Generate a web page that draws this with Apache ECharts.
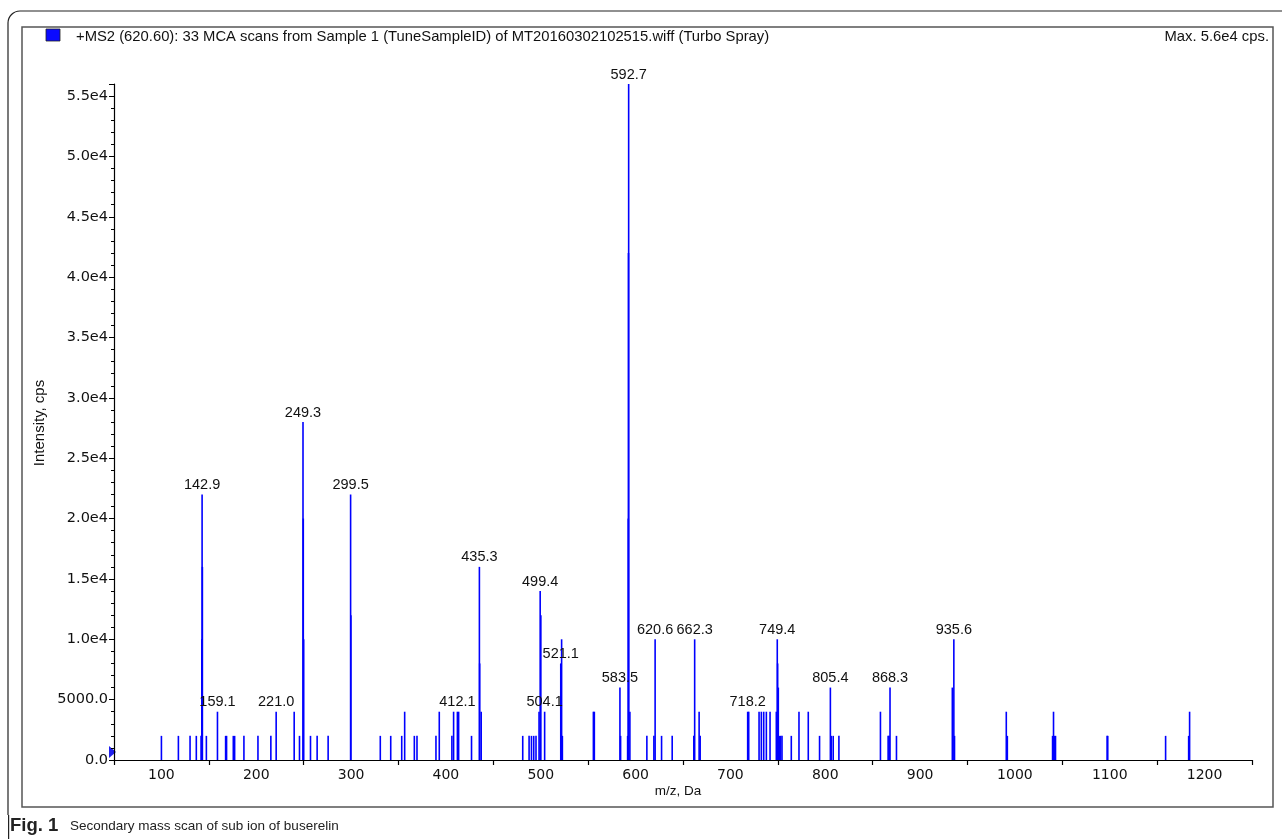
<!DOCTYPE html>
<html>
<head>
<meta charset="utf-8">
<script src="https://cdn.jsdelivr.net/npm/echarts@6/dist/echarts.min.js"></script>
<style>
html,body{margin:0;padding:0;background:#fff;}
#chart{width:1282px;height:839px;}
</style>
</head>
<body>
<div id="chart"></div>
<script>
// m/z positions of peaks (Da)
const peakMz = [
  100.0, 117.9, 130.2, 136.8, 141.8, 142.6, 142.9, 143.2, 147.4, 159.1,
  167.7, 168.7, 175.8, 177.2, 187.0, 201.8, 215.4, 221.0, 240.0, 245.6,
  249.3, 249.6, 250.0, 257.2, 264.2, 275.8, 299.5, 299.8, 330.8, 341.8,
  353.4, 356.5, 366.7, 369.5, 389.5, 393.0, 406.3, 408.1, 412.1, 413.4,
  427.0, 435.3, 435.6, 437.2, 481.0, 487.7, 490.2, 492.6, 495.0, 498.2,
  499.4, 500.1, 504.1, 521.1, 522.0, 522.8, 555.5, 556.5, 583.5, 584.2,
  591.6, 592.3, 592.5, 592.7, 594.0, 611.9, 619.3, 620.6, 627.4, 638.6,
  661.4, 662.3, 667.0, 668.1, 718.2, 719.3, 730.2, 732.6, 735.1, 737.9,
  741.8, 748.4, 749.4, 749.8, 750.5, 752.0, 752.9, 754.4, 764.2, 772.3,
  782.1, 794.0, 805.4, 806.3, 808.4, 814.4, 858.2, 866.3, 867.4, 868.3,
  875.1, 934.0, 935.6, 936.3, 990.9, 992.0, 1039.7, 1040.7, 1041.8, 1042.8,
  1097.2, 1097.9, 1158.9, 1183.2, 1184.2
];
// intensities (cps)
const peakIntensity = [
  2000, 2000, 2000, 2000, 2000, 10000, 22000, 16000, 2000, 4000,
  2000, 2000, 2000, 2000, 2000, 2000, 2000, 4000, 4000, 2000,
  28000, 20000, 10000, 2000, 2000, 2000, 22000, 12000, 2000, 2000,
  2000, 4000, 2000, 2000, 2000, 4000, 2000, 4000, 4000, 4000,
  2000, 16000, 8000, 4000, 2000, 2000, 2000, 2000, 2000, 4000,
  14000, 12000, 4000, 8000, 10000, 2000, 4000, 4000, 6000, 2000,
  2000, 20000, 42000, 56000, 4000, 2000, 2000, 10000, 2000, 2000,
  2000, 10000, 4000, 2000, 4000, 4000, 4000, 4000, 4000, 4000,
  4000, 4000, 10000, 8000, 6000, 2000, 2000, 2000, 2000, 4000,
  4000, 2000, 6000, 2000, 2000, 2000, 4000, 2000, 2000, 6000,
  2000, 6000, 10000, 2000, 4000, 2000, 2000, 4000, 2000, 2000,
  2000, 2000, 2000, 2000, 4000
];
// annotated peaks
const labeledMz = [142.9, 159.1, 221.0, 249.3, 299.5, 412.1, 435.3, 499.4, 504.1, 521.1,
  583.5, 592.7, 620.6, 662.3, 718.2, 749.4, 805.4, 868.3, 935.6];

const xTickLabels = [100, 200, 300, 400, 500, 600, 700, 800, 900, 1000, 1100, 1200];
const yTickLabels = {0: '0.0', 5000: '5000.0', 10000: '1.0e4', 15000: '1.5e4', 20000: '2.0e4',
  25000: '2.5e4', 30000: '3.0e4', 35000: '3.5e4', 40000: '4.0e4', 45000: '4.5e4',
  50000: '5.0e4', 55000: '5.5e4'};

const headerText = '+MS2 (620.60): 33 MCA scans from Sample 1 (TuneSampleID) of MT20160302102515.wiff (Turbo Spray)';
const maxText = 'Max. 5.6e4 cps.';
const yName = 'Intensity, cps';
const xName = 'm/z, Da';
const captionBold = 'Fig. 1';
const captionText = 'Secondary mass scan of sub ion of buserelin';

const BLUE = '#0000ff';
const FONT = 'Liberation Sans, Arial, sans-serif';
const AXFONT = 'DejaVu Sans, sans-serif';

const data = peakMz.map((mz, i) => {
  const item = { value: [mz, peakIntensity[i]] };
  if (labeledMz.indexOf(mz) >= 0) {
    item.label = { show: true, formatter: mz.toFixed(1) };
  }
  return item;
});

const chart = echarts.init(document.getElementById('chart'), null, { renderer: 'canvas' });
chart.setOption({
  animation: false,
  backgroundColor: '#fff',
  grid: { left: 114, right: 30, top: 84, bottom: 79, containLabel: false },
  xAxis: [{
    type: 'value', min: 50, max: 1250, interval: 50,
    axisLine: { show: true, lineStyle: { color: '#000', width: 1.2 } },
    axisTick: { show: false },
    splitLine: { show: false },
    axisLabel: {
      color: '#111', fontSize: 14, fontFamily: AXFONT, margin: 8,
      formatter: v => (xTickLabels.indexOf(v) >= 0 ? String(v) : '')
    }
  }, {
    type: 'value', min: 50, max: 1250, interval: 100, position: 'bottom',
    axisLine: { show: false },
    axisTick: { show: true, length: 5, lineStyle: { color: '#000', width: 1.2 } },
    axisLabel: { show: false },
    splitLine: { show: false }
  }],
  yAxis: {
    type: 'value', min: 0, max: 56000, interval: 5000,
    axisLine: { show: true, lineStyle: { color: '#000', width: 1.2 } },
    axisTick: { show: true, length: 5, lineStyle: { color: '#000' } },
    minorTick: { show: true, splitNumber: 5, length: 3, lineStyle: { color: '#000' } },
    splitLine: { show: false },
    axisLabel: {
      color: '#111', fontSize: 14.5, fontFamily: AXFONT, margin: 6,
      showMaxLabel: false,
      formatter: v => (yTickLabels[v] !== undefined ? yTickLabels[v] : '')
    }
  },
  series: [{
    type: 'bar',
    xAxisIndex: 0,
    barWidth: 1.6,
    itemStyle: { color: BLUE },
    label: {
      show: false, position: 'top', distance: 2,
      color: '#111', fontSize: 14.5, fontFamily: FONT
    },
    labelLayout: { hideOverlap: false },
    data: data
  }],
  graphic: [
    { type: 'rect', silent: true, shape: { x: 8, y: 11, width: 1320, height: 900, r: 12 },
      style: { fill: 'none', stroke: '#222', lineWidth: 1.2 } },
    { type: 'rect', silent: true, shape: { x: 22, y: 27, width: 1251, height: 780 },
      style: { fill: 'none', stroke: '#555', lineWidth: 1.5 } },
    { type: 'rect', silent: true, shape: { x: 46, y: 29, width: 14, height: 12 },
      style: { fill: '#0a0aff', stroke: '#222', lineWidth: 0.8 } },
    { type: 'text', silent: true, x: 76, y: 37,
      style: { text: headerText, fill: '#111', fontSize: 14.8, fontFamily: FONT,
        textAlign: 'left', textVerticalAlign: 'middle' } },
    { type: 'text', silent: true, x: 1269, y: 37,
      style: { text: maxText, fill: '#111', fontSize: 14.8, fontFamily: FONT,
        textAlign: 'right', textVerticalAlign: 'middle' } },
    { type: 'text', silent: true, x: 40, y: 423, rotation: Math.PI / 2,
      style: { text: yName, fill: '#111', fontSize: 15, fontFamily: FONT,
        textAlign: 'center', textVerticalAlign: 'middle' } },
    { type: 'text', silent: true, x: 678, y: 791,
      style: { text: xName, fill: '#111', fontSize: 13.5, fontFamily: FONT,
        textAlign: 'center', textVerticalAlign: 'middle' } },
    { type: 'polygon', silent: true, shape: { points: [[109, 746], [109, 758], [116, 752]] },
      style: { fill: '#2020ee' } },
    { type: 'rect', silent: true, shape: { x: 0, y: 815, width: 1282, height: 24 },
      style: { fill: '#fff' }, z: 10 },
    { type: 'text', silent: true, x: 10, y: 826, z: 11,
      style: { text: captionBold, fill: '#222', fontSize: 18.5, fontWeight: 'bold',
        fontFamily: FONT, textAlign: 'left', textVerticalAlign: 'middle' } },
    { type: 'text', silent: true, x: 70, y: 826, z: 11,
      style: { text: captionText, fill: '#222', fontSize: 13.5,
        fontFamily: FONT, textAlign: 'left', textVerticalAlign: 'middle' } },
    { type: 'line', silent: true, z: 11, shape: { x1: 8.6, y1: 815, x2: 8.6, y2: 839 },
      style: { stroke: '#222', lineWidth: 1.2 } }
  ]
});
</script>
</body>
</html>
